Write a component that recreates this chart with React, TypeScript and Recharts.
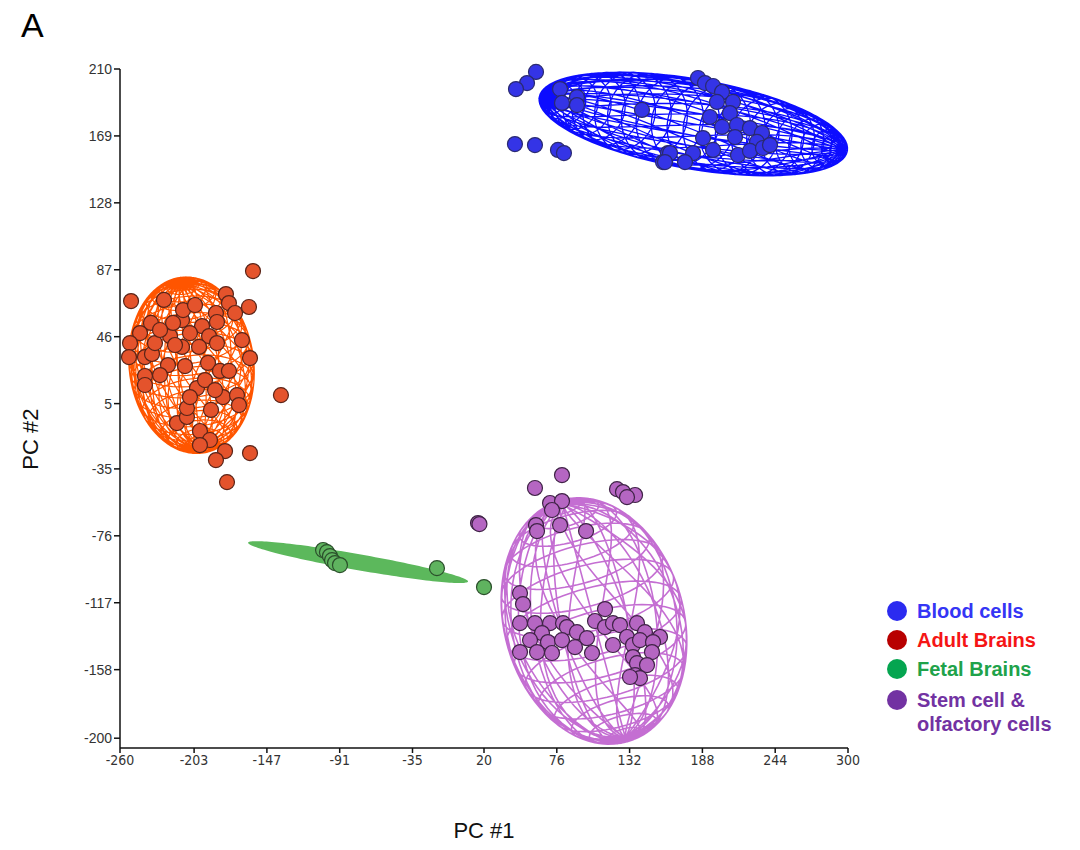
import { ComposedChart, Scatter, Line, Area, XAxis, YAxis } from 'recharts';

type Pt = [number, number];
type Vec = [number, number];

// PCA scores (PC #1, PC #2)
const bloodCells: Pt[] = [
  [60, 208.2], [53.1, 201.4], [44.6, 197.7], [43.8, 164], [59.2, 163.4], [76.9, 160.4],
  [81.5, 158.5], [78.5, 197.7], [80, 189.2], [91.5, 192.8], [91.5, 187.9], [141.5, 184.9],
  [161.5, 158.5], [157.7, 153], [184.6, 204.5], [190, 201.4], [196.2, 199.6], [203.1, 195.9],
  [199.2, 189.8], [211.5, 189.8], [193.8, 180.6], [209.2, 183], [203.1, 174.5], [214.6, 175.7],
  [224.6, 173.8], [188.5, 167.7], [213.1, 168.3], [233.8, 170.8], [230, 165.3], [196.2, 160.4],
  [180.8, 158.5], [163.1, 158.5], [159.2, 153], [174.6, 153], [215.4, 157.3], [224.6, 159.8],
  [234.6, 161.6], [240, 163.4],
];

const adultBrains: Pt[] = [
  [-251.5, 67.8], [-226.2, 68.5], [-236.2, 54.4], [-244.6, 48.2], [-252.3, 42.1], [-253.1, 33.5],
  [-240.8, 33.5], [-235.4, 35.4], [-233.1, 42.1], [-221.5, 46.4], [-212.3, 56.2], [-211.5, 62.3],
  [-219.2, 54.4], [-212.3, 39.7], [-223.1, 28.6], [-210, 28], [-229.2, 22.5], [-240.8, 21.9],
  [-240.8, 16.4], [-216.2, -6.9], [-208.5, -3.2], [-208.5, 2.3], [-157.7, 86.2], [-178.5, 72.1],
  [-176.2, 66.6], [-171.5, 60.5], [-186.2, 60.5], [-185.4, 55], [-160.8, 64.2], [-196.9, 52.5],
  [-191.5, 46.4], [-206.2, 48.2], [-185.4, 42.1], [-166.2, 43.9], [-160, 32.9], [-199.2, 39.7],
  [-192.3, 29.9], [-183.1, 25], [-176.2, 25], [-200.8, 14.5], [-206.2, 9], [-180.8, 9],
  [-170, 10.2], [-168.5, 4.1], [-136.2, 10.2], [-190, 1.1], [-198.5, -11.8], [-190.8, -17.3],
  [-179.2, -24.1], [-186.2, -29.6], [-160, -25.3], [-177.7, -43.1], [-198.5, -20.4],
  [-202.3, 65.4], [-229.2, 50.1], [-194.6, 19.4], [-217.7, 40.9], [-186.9, 13.3],
];

const fetalBrains: Pt[] = [
  [-103.8, -84.7], [-100.8, -86], [-98.5, -88.4], [-96.9, -90.9], [-94.6, -92.7], [-90.8, -93.9],
  [-16.2, -95.8], [20, -107.4],
];

const stemCells: Pt[] = [
  [80, -38.8], [59.2, -46.7], [122.3, -47.4], [126.9, -49.2], [136.2, -51], [130, -52.3],
  [15.4, -68.2], [16.5, -68.8], [70.8, -55.9], [80, -54.7], [72.3, -60.2], [60, -69.4], [78.5, -69.4],
  [98.5, -73.1], [60.8, -73.1], [47.7, -111.1], [50, -117.8], [47.7, -129.5], [59.2, -129.5],
  [70.8, -129.5], [80.8, -129.5], [83.8, -131.9], [105.4, -128.2], [113.1, -120.9], [113.1, -131.9],
  [119.2, -129.5], [124.6, -130.7], [137.7, -129.5], [143.8, -135], [155.4, -138], [64.6, -135.6],
  [91.5, -135], [99.2, -138.7], [55.4, -139.9], [69.2, -141.1], [80, -139.9], [90, -144.2],
  [119.2, -142.9], [130, -138], [134.6, -142.9], [140, -139.9], [150, -141.1], [149.2, -147.2],
  [47.7, -147.2], [60.8, -147.2], [72.3, -147.8], [103.1, -147.8], [134.6, -150.3], [137.7, -154],
  [145.4, -155.2], [136.2, -161.3], [140, -163.2], [132.3, -162.5],
];

const X_TICKS = [-260, -203, -147, -91, -35, 20, 76, 132, 188, 244, 300];
const Y_TICKS = [-200, -158, -117, -76, -35, 5, 46, 87, 128, 169, 210];

// group ellipsoids: centre, then in-plane half axes (major, minor)
const bloodCenter: Vec = [181, 176.3];
const bloodAxes: Vec[] = [[118.5, -16.5], [-6, -27.1]];
const adultCenter: Vec = [-205, 28.5];
const adultAxes: Vec[] = [[7.7, -53.9], [47.7, 4.3]];
const fetalCenter: Vec = [-76.9, -92.1];
const fetalAxes: Vec[] = [[84.6, -11.9], [-1.1, -4.8]];
const stemCenter: Vec = [104.6, -128.2];
const stemAxes: Vec[] = [[25, -74.1], [66.9, 14.3]];

const groups = [
  { name: 'Blood cells', dot: '#2b2bf0', text: '#3535f5' },
  { name: 'Adult Brains', dot: '#b80000', text: '#f51515' },
  { name: 'Fetal Brains', dot: '#05a550', text: '#20a24a' },
  { name: 'Stem cell &', name2: 'olfactory cells', dot: '#7232a2', text: '#7232a2' },
];

const toRows = (pts: Pt[]) => pts.map(([x, y]) => ({ x, y }));

type Row = { x: number; y: number | null };

// wireframe of an ellipsoid seen from the side; the major axis is tilted by "tilt" into depth
function wireframe(center: Vec, axes: Vec[], tilt: number, rings: number, meridians: number, twist: number) {
  const [c0, c1] = center;
  const s = Math.sin(tilt), co = Math.cos(tilt);
  const a: Vec = [axes[0][0] * co, axes[0][1] * co];
  const b: Vec = axes[1];
  const p: Vec = [axes[0][0] * s, axes[0][1] * s];
  const at = (phi: number, v: number): Row => ({
    x: c0 + Math.cos(phi) * (Math.cos(v) * a[0] + Math.sin(v) * b[0]) + Math.sin(phi) * p[0],
    y: c1 + Math.cos(phi) * (Math.cos(v) * a[1] + Math.sin(v) * b[1]) + Math.sin(phi) * p[1],
  });
  const out: Row[] = [];
  const brk = () => out.push({ x: out[out.length - 1].x, y: null });
  for (let k = 0; k <= 90; k++) {
    const t = (2 * Math.PI * k) / 90;
    out.push({
      x: c0 + Math.cos(t) * axes[0][0] + Math.sin(t) * axes[1][0],
      y: c1 + Math.cos(t) * axes[0][1] + Math.sin(t) * axes[1][1],
    });
  }
  brk();
  for (let i = 1; i < rings; i++) {
    const phi = -Math.PI / 2 + (Math.PI * i) / rings;
    for (let k = 0; k <= 72; k++) out.push(at(phi, (2 * Math.PI * k) / 72));
    brk();
  }
  for (let j = 0; j < meridians; j++) {
    const v0 = (2 * Math.PI * j) / meridians;
    for (let k = 0; k <= 36; k++) out.push(at(-Math.PI / 2 + (Math.PI * k) / 36, v0));
    brk();
    if (twist) {
      for (let k = 0; k <= 36; k++) {
        const phi = -Math.PI / 2 + (Math.PI * k) / 36;
        out.push(at(phi, v0 + twist * (phi + Math.PI / 2)));
      }
      brk();
    }
  }
  return out;
}

// filled ellipse as a range band (low, high) over x
function band(center: Vec, axes: Vec[]) {
  const [e1, e2] = axes;
  const det = e1[0] * e2[1] - e2[0] * e1[1];
  const m = [[e2[1] / det, -e2[0] / det], [-e1[1] / det, e1[0] / det]];
  const q11 = m[0][0] ** 2 + m[1][0] ** 2;
  const q12 = m[0][0] * m[0][1] + m[1][0] * m[1][1];
  const q22 = m[0][1] ** 2 + m[1][1] ** 2;
  const half = Math.sqrt(e1[0] ** 2 + e2[0] ** 2);
  const rows = [];
  for (let k = 0; k <= 80; k++) {
    const dx = -half * Math.cos((Math.PI * k) / 80);
    const disc = Math.max(0, (q12 * dx) ** 2 - q22 * (q11 * dx * dx - 1));
    const lo = (-q12 * dx - Math.sqrt(disc)) / q22;
    const hi = (-q12 * dx + Math.sqrt(disc)) / q22;
    rows.push({ x: center[0] + dx, range: [center[1] + lo, center[1] + hi] });
  }
  return rows;
}

const bloodMesh = wireframe(bloodCenter, bloodAxes, 1.3, 30, 24, 0.7);
const adultMesh = wireframe(adultCenter, adultAxes, 1.2, 24, 26, 0.8);
const stemMesh = wireframe(stemCenter, stemAxes, 1.3, 16, 16, 0.6);
const fetalShape = band(fetalCenter, fetalAxes);

const makeDot = (fill: string, stroke: string) => (props: any) => (
  <circle cx={props.cx} cy={props.cy} r={7.5} fill={fill} stroke={stroke} strokeWidth={1.2} />
);

const meshLine = (data: Row[], color: string, width: number) => (
  <Line
    data={data}
    dataKey="y"
    stroke={color}
    strokeWidth={width}
    dot={false}
    activeDot={false}
    connectNulls={false}
    legendType="none"
    isAnimationActive={false}
  />
);

const sans = 'Liberation Sans, Arial, sans-serif';

export default function App() {
  return (
    <div style={{ position: 'absolute', left: 0, top: 0, width: 1080, height: 850, background: '#fff' }}>
      <div style={{ position: 'absolute', left: 21, top: 6, fontSize: 34, fontFamily: sans }}>A</div>
      <ComposedChart width={1080} height={850} margin={{ top: 69, right: 232, bottom: 72, left: 60 }}>
        <XAxis
          type="number"
          dataKey="x"
          domain={[-260, 300]}
          ticks={X_TICKS}
          interval={0}
          height={30}
          stroke="#111"
          strokeWidth={1.5}
          tickSize={5}
          tick={{ fontSize: 14, fill: '#333', fontFamily: "'Liberation Sans Narrow', 'DejaVu Sans Condensed', 'Liberation Sans', sans-serif" }}
          label={{ value: 'PC #1', position: 'bottom', offset: 44, fontSize: 22, fill: '#111', fontFamily: sans }}
        />
        <YAxis
          type="number"
          dataKey="y"
          domain={[-206, 210]}
          ticks={Y_TICKS}
          interval={0}
          width={60}
          stroke="#111"
          strokeWidth={1.5}
          tickSize={6}
          tick={{ fontSize: 14, fill: '#333', fontFamily: sans }}
          label={{ value: 'PC #2', angle: -90, position: 'left', offset: 30, fontSize: 22, fill: '#111', fontFamily: sans }}
        />
        {meshLine(bloodMesh, '#0c0cff', 1.3)}
        {meshLine(adultMesh, '#ff5500', 1.2)}
        {meshLine(stemMesh, '#c46ed2', 1.6)}
        <Area data={fetalShape} dataKey="range" stroke="none" fill="#5cb85c" fillOpacity={1} legendType="none" isAnimationActive={false} />
        <Scatter data={toRows(bloodCells)} shape={makeDot('#3434e6', '#2a2a70')} isAnimationActive={false} />
        <Scatter data={toRows(adultBrains)} shape={makeDot('#e4532c', '#5a2418')} isAnimationActive={false} />
        <Scatter data={toRows(fetalBrains)} shape={makeDot('#5fb35f', '#2b4f2b')} isAnimationActive={false} />
        <Scatter data={toRows(stemCells)} shape={makeDot('#b566c2', '#3f2346')} isAnimationActive={false} />
      </ComposedChart>
      <div style={{ position: 'absolute', left: 887, top: 597, fontFamily: sans, fontWeight: 'bold', fontSize: 20, lineHeight: '29px' }}>
        {groups.map((g) => (
          <div key={g.name} style={{ display: 'flex', alignItems: 'flex-start', color: g.text, marginTop: g.name2 ? 2 : 0 }}>
            <span style={{ width: 20, height: 20, borderRadius: 10, background: g.dot, marginTop: 4, marginRight: 10, flexShrink: 0 }} />
            <span style={{ lineHeight: g.name2 ? '24px' : '29px', marginTop: g.name2 ? 2 : 0 }}>
              {g.name}
              {g.name2 ? <br /> : null}
              {g.name2}
            </span>
          </div>
        ))}
      </div>
    </div>
  );
}
